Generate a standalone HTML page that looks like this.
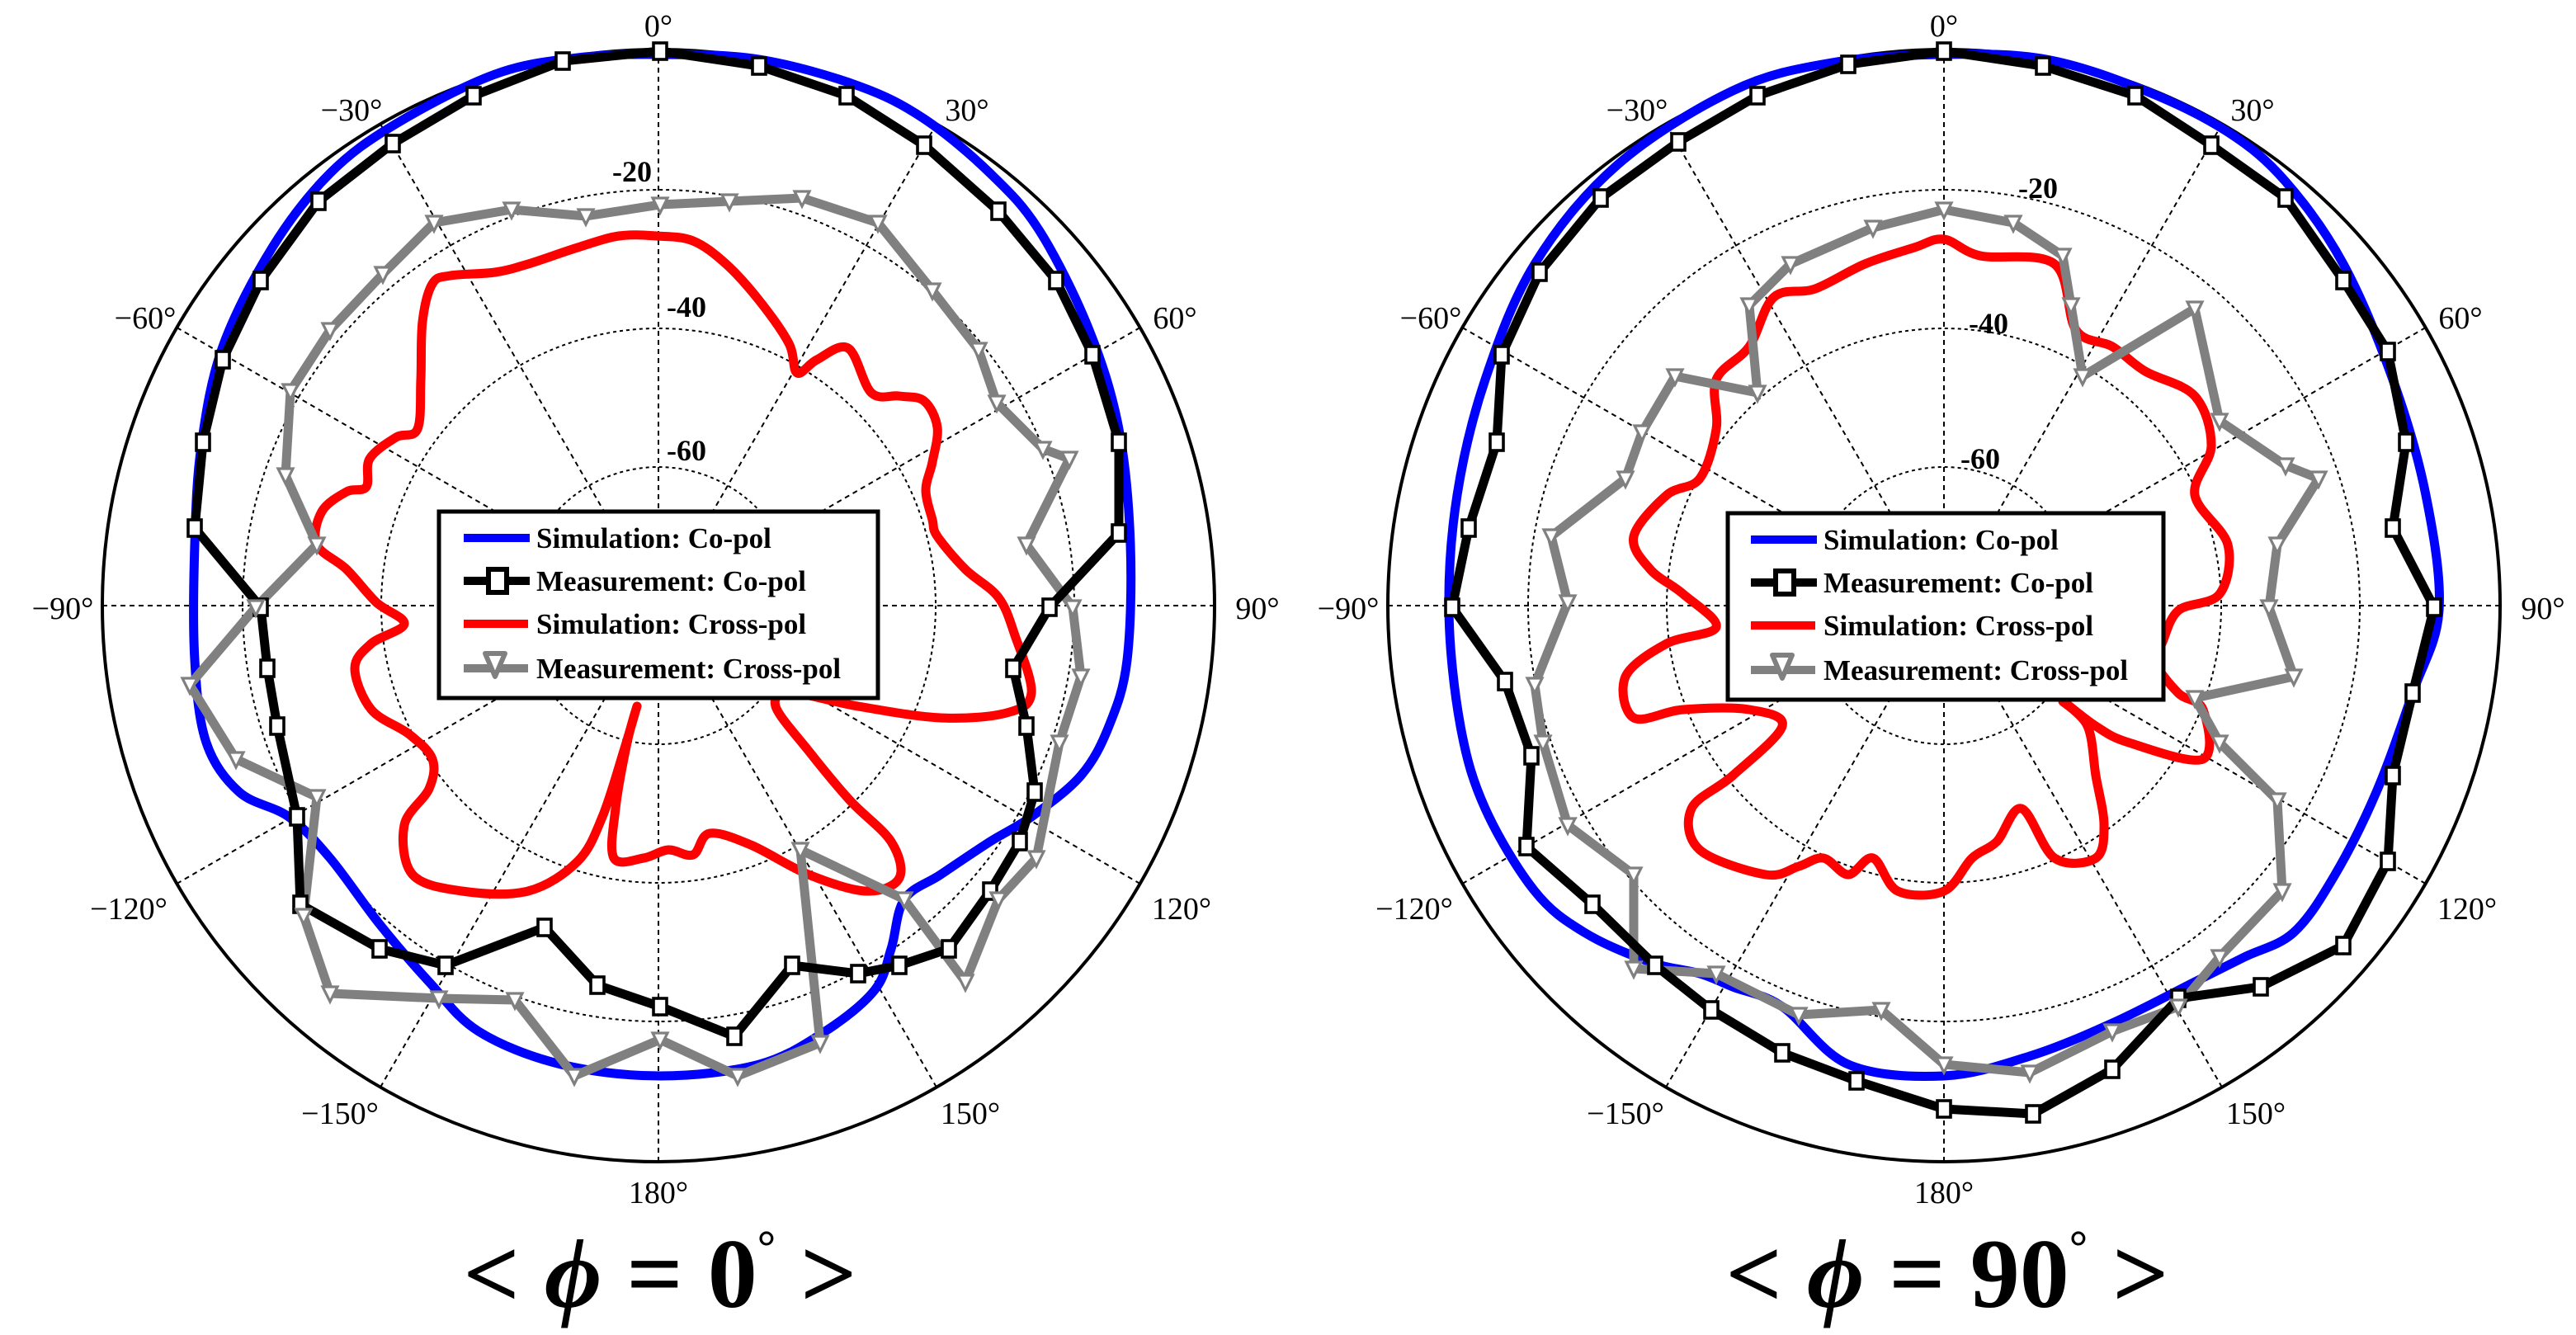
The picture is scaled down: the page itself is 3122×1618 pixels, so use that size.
<!DOCTYPE html>
<html><head><meta charset="utf-8"><style>
html,body{margin:0;padding:0;background:#fff;}
svg{display:block;}
.al{font-family:"Liberation Serif",serif;font-size:19px;fill:#000;}
.db{font-family:"Liberation Serif",serif;font-size:18px;font-weight:bold;fill:#000;}
.lg{font-family:"Liberation Serif",serif;font-size:17.5px;font-weight:bold;fill:#000;}
.tt{font-family:"Liberation Serif",serif;font-size:60px;font-weight:bold;fill:#000;}
</style></head><body>
<svg id="s" width="3122" height="1618" viewBox="0 0 1561 809" xmlns="http://www.w3.org/2000/svg">
<rect width="1561" height="809" fill="#fff"/>
<g id="grid"></g>
<g id="curves"></g>
<g id="legends">
 <rect x="266" y="310" width="266" height="113" fill="#fff" stroke="#000" stroke-width="2.5"/>
 <line x1="281" y1="326" x2="321" y2="326" stroke="#00f" stroke-width="5"/>
 <text class="lg" x="325" y="332">Simulation: Co-pol</text>
 <line x1="281" y1="352" x2="321" y2="352" stroke="#000" stroke-width="5"/>
 <rect x="296" y="345" width="11" height="14" fill="#fff" stroke="#000" stroke-width="3"/>
 <text class="lg" x="325" y="358">Measurement: Co-pol</text>
 <line x1="281" y1="378" x2="320" y2="378" stroke="#f00" stroke-width="5"/>
 <text class="lg" x="325" y="384">Simulation: Cross-pol</text>
 <line x1="281" y1="405" x2="320" y2="405" stroke="#808080" stroke-width="5"/>
 <polygon points="294,396 306,396 300,410" fill="#fff" stroke="#808080" stroke-width="3" stroke-linejoin="round"/>
 <text class="lg" x="325" y="411">Measurement: Cross-pol</text>

 <rect x="1047" y="311" width="264" height="113" fill="#fff" stroke="#000" stroke-width="2.5"/>
 <line x1="1061" y1="327" x2="1101" y2="327" stroke="#00f" stroke-width="5"/>
 <text class="lg" x="1105" y="333">Simulation: Co-pol</text>
 <line x1="1061" y1="353" x2="1101" y2="353" stroke="#000" stroke-width="5"/>
 <rect x="1076" y="346" width="11" height="14" fill="#fff" stroke="#000" stroke-width="3"/>
 <text class="lg" x="1105" y="359">Measurement: Co-pol</text>
 <line x1="1061" y1="379" x2="1100" y2="379" stroke="#f00" stroke-width="5"/>
 <text class="lg" x="1105" y="385">Simulation: Cross-pol</text>
 <line x1="1061" y1="406" x2="1100" y2="406" stroke="#808080" stroke-width="5"/>
 <polygon points="1074,397 1086,397 1080,411" fill="#fff" stroke="#808080" stroke-width="3" stroke-linejoin="round"/>
 <text class="lg" x="1105" y="412">Measurement: Cross-pol</text>
</g>
<g>
 <text class="al" x="399" y="22" text-anchor="middle">0°</text>
 <text class="al" x="213" y="73" text-anchor="middle">−30°</text>
 <text class="al" x="586" y="73" text-anchor="middle">30°</text>
 <text class="al" x="88" y="199" text-anchor="middle">−60°</text>
 <text class="al" x="712" y="199" text-anchor="middle">60°</text>
 <text class="al" x="38" y="375" text-anchor="middle">−90°</text>
 <text class="al" x="762" y="375" text-anchor="middle">90°</text>
 <text class="al" x="78" y="557" text-anchor="middle">−120°</text>
 <text class="al" x="716" y="557" text-anchor="middle">120°</text>
 <text class="al" x="206" y="681" text-anchor="middle">−150°</text>
 <text class="al" x="588" y="681" text-anchor="middle">150°</text>
 <text class="al" x="399" y="729" text-anchor="middle">180°</text>
 <text class="db" x="383" y="110" text-anchor="middle">-20</text>
 <text class="db" x="416" y="192" text-anchor="middle">-40</text>
 <text class="db" x="416" y="279" text-anchor="middle">-60</text>

 <text class="al" x="1178" y="22" text-anchor="middle">0°</text>
 <text class="al" x="992" y="73" text-anchor="middle">−30°</text>
 <text class="al" x="1365" y="73" text-anchor="middle">30°</text>
 <text class="al" x="867" y="199" text-anchor="middle">−60°</text>
 <text class="al" x="1491" y="199" text-anchor="middle">60°</text>
 <text class="al" x="817" y="375" text-anchor="middle">−90°</text>
 <text class="al" x="1541" y="375" text-anchor="middle">90°</text>
 <text class="al" x="857" y="557" text-anchor="middle">−120°</text>
 <text class="al" x="1495" y="557" text-anchor="middle">120°</text>
 <text class="al" x="985" y="681" text-anchor="middle">−150°</text>
 <text class="al" x="1367" y="681" text-anchor="middle">150°</text>
 <text class="al" x="1178" y="729" text-anchor="middle">180°</text>
 <text class="db" x="1235" y="120" text-anchor="middle">-20</text>
 <text class="db" x="1205" y="202" text-anchor="middle">-40</text>
 <text class="db" x="1200" y="284" text-anchor="middle">-60</text>

 <text class="tt" x="400" y="792" text-anchor="middle">&lt; <tspan font-style="italic">ϕ</tspan> = 0<tspan font-size="28" dy="-27">°</tspan><tspan dy="27"> &gt;</tspan></text>
 <text class="tt" x="1180" y="792" text-anchor="middle">&lt; <tspan font-style="italic">ϕ</tspan> = 90<tspan font-size="28" dy="-27">°</tspan><tspan dy="27"> &gt;</tspan></text>
</g>
</svg>
<script>
(function(){
var NS="http://www.w3.org/2000/svg";
function el(p,t,a){var e=document.createElementNS(NS,t);for(var k in a)e.setAttribute(k,a[k]);p.appendChild(e);return e;}
var grid=document.getElementById('grid'),cur=document.getElementById('curves');
var R=337;
[[399,367],[1178,367]].forEach(function(c){
 var cx=c[0],cy=c[1];
 [252,168,84].forEach(function(r){el(grid,'circle',{cx:cx,cy:cy,r:r,fill:'none',stroke:'#000','stroke-width':1,'stroke-dasharray':'2,2'});});
 for(var a=0;a<180;a+=30){var t=a*Math.PI/180,dx=Math.sin(t)*R,dy=-Math.cos(t)*R;
  el(grid,'line',{x1:cx-dx,y1:cy-dy,x2:cx+dx,y2:cy+dy,stroke:'#000','stroke-width':1,'stroke-dasharray':'3,2.5'});}
 el(grid,'circle',{cx:cx,cy:cy,r:R,fill:'none',stroke:'#000','stroke-width':2});
});
function pl(pts,col,w){el(cur,'polyline',{points:pts.map(function(p){return p.join(',')}).join(' '),fill:'none',stroke:col,'stroke-width':w,'stroke-linejoin':'round','stroke-linecap':'round'});}
function sm(pts,col,w){
 var n=pts.length-1; // closed: last==first
 var P=pts.slice(0,n);var d='M'+P[0].join(',');
 for(var i=0;i<n;i++){var p0=P[(i-1+n)%n],p1=P[i],p2=P[(i+1)%n],p3=P[(i+2)%n];
  var c1=[p1[0]+(p2[0]-p0[0])/6,p1[1]+(p2[1]-p0[1])/6],c2=[p2[0]-(p3[0]-p1[0])/6,p2[1]-(p3[1]-p1[1])/6];
  d+=' C'+c1.join(',')+' '+c2.join(',')+' '+p2.join(',');}
 el(cur,'path',{d:d,fill:'none',stroke:col,'stroke-width':w,'stroke-linejoin':'round'});}
function sq(pts){pts.forEach(function(p){el(cur,'rect',{x:p[0]-4,y:p[1]-5,width:8,height:10,fill:'#fff',stroke:'#000','stroke-width':1.8});});}
function tri(pts){pts.forEach(function(p){el(cur,'polygon',{points:(p[0]-4.5)+','+(p[1]-4)+' '+(p[0]+4.5)+','+(p[1]-4)+' '+p[0]+','+(p[1]+5),fill:'#fff',stroke:'#808080','stroke-width':1.6});});}

var blueL=[[400,33],[460,36],[520,52],[560,72],[600,105],[630,140],[660,200],[678,260],[685,330],[683,400],[672,440],[655,470],[625,495],[600,510],[570,530],[548,545],[540,575],[530,600],[500,625],[460,645],[400,652],[340,645],[290,625],[260,595],[230,560],[200,520],[175,495],[145,480],[125,450],[118,400],[118,330],[122,270],[135,210],[165,150],[200,105],[240,75],[300,45],[350,35],[400,33]];
var blackL=[[400,31],[460,40],[513,58],[560,88],[605,128],[640,170],[662,215],[678,268],[678,323],[636,368],[614,405],[622,440],[627,480],[618,510],[600,540],[575,575],[545,585],[520,590],[480,585],[445,628],[400,610],[362,597],[330,562],[270,585],[230,575],[182,548],[180,495],[168,440],[162,405],[158,368],[118,320],[123,268],[135,218],[158,170],[193,122],[238,87],[287,58],[341,37],[400,31]];
var grayL=[[400,124],[442,122],[486,120],[532,135],[565,176],[593,212],[604,244],[632,272],[648,278],[622,330],[650,368],[655,410],[642,450],[628,520],[605,545],[585,595],[548,545],[485,515],[497,632],[447,652],[400,630],[348,652],[312,606],[266,605],[200,602],[184,555],[192,483],[143,460],[115,415],[155,368],[192,330],[173,288],[176,237],[200,200],[232,166],[263,135],[310,127],[355,131],[400,124]];
var redL=[[398,143],[420,146],[440,160],[460,182],[478,208],[483,226],[495,218],[514,211],[528,238],[545,240],[560,243],[568,259],[565,280],[561,297],[565,315],[568,325],[585,345],[605,362],[615,385],[625,420],[610,432],[570,435],[520,428],[480,420],[470,428],[490,455],[515,485],[540,510],[545,532],[525,540],[490,530],[455,512],[430,505],[420,518],[405,515],[390,520],[372,520],[373,490],[380,450],[386,428],[378,455],[365,495],[350,522],[320,540],[280,540],[250,530],[245,500],[260,478],[262,460],[248,445],[225,430],[215,405],[225,390],[245,378],[228,365],[210,345],[192,330],[195,310],[210,298],[222,295],[224,278],[240,265],[253,260],[255,230],[256,195],[262,172],[273,167],[300,165],[320,160],[350,150],[375,143],[398,143]];

var blueR=[[1178,33],[1240,36],[1300,55],[1350,80],[1385,110],[1420,160],[1450,230],[1470,300],[1478,370],[1462,420],[1440,480],[1415,530],[1390,565],[1360,580],[1330,595],[1280,620],[1230,640],[1178,652],[1120,645],[1080,610],[1050,598],[1030,590],[1000,583],[960,565],[930,540],[900,490],[885,440],[878,370],[883,300],[900,230],[930,160],[980,100],[1050,55],[1110,38],[1178,33]];
var blackR=[[1178,31],[1238,40],[1294,58],[1340,88],[1385,120],[1420,170],[1447,213],[1458,268],[1450,320],[1475,368],[1462,420],[1450,470],[1447,522],[1420,573],[1370,598],[1320,605],[1280,648],[1232,675],[1178,672],[1125,655],[1080,638],[1037,612],[1003,585],[965,548],[925,513],[928,458],[912,413],[880,368],[890,320],[907,268],[910,215],[933,165],[970,120],[1017,86],[1065,58],[1120,39],[1178,31]];
var grayR=[[1178,127],[1220,135],[1250,155],[1255,185],[1262,228],[1330,187],[1345,255],[1385,282],[1405,290],[1380,330],[1375,368],[1390,410],[1330,423],[1345,450],[1380,485],[1383,540],[1345,580],[1320,610],[1280,625],[1230,650],[1178,645],[1140,612],[1090,615],[1040,590],[990,587],[990,530],[950,500],[935,450],[930,415],[950,365],[940,325],[985,290],[995,262],[1015,228],[1065,238],[1060,185],[1085,160],[1135,138],[1178,127]];
var redR=[[1178,145],[1200,155],[1245,160],[1258,200],[1280,210],[1300,225],[1330,240],[1340,270],[1330,300],[1350,330],[1345,360],[1320,370],[1310,390],[1305,400],[1320,420],[1335,430],[1335,460],[1290,450],[1270,440],[1250,425],[1265,440],[1270,470],[1275,500],[1270,520],[1245,520],[1225,490],[1210,510],[1195,520],[1178,540],[1150,540],[1135,520],[1120,530],[1105,520],[1090,525],[1070,530],[1030,515],[1025,490],[1050,470],[1080,440],[1060,430],[1020,430],[990,435],[985,410],[1010,390],[1040,380],[1020,360],[1000,345],[990,325],[1010,300],[1030,290],[1040,260],[1040,230],[1060,210],[1075,180],[1100,175],[1130,160],[1160,150],[1178,145]];

sm(blueL,'#0000ff',5.5);sm(redL,'#ff0000',5.5);pl(grayL,'#808080',5.5);pl(blackL,'#000',5.5);
sq(blackL.slice(0,-1));tri(grayL.slice(0,-1));
sm(blueR,'#0000ff',5.5);sm(redR,'#ff0000',5.5);pl(grayR,'#808080',5.5);pl(blackR,'#000',5.5);
sq(blackR.slice(0,-1));tri(grayR.slice(0,-1));
var lg=document.getElementById('legends');lg.parentNode.appendChild(lg);
})();
</script>
</body></html>
